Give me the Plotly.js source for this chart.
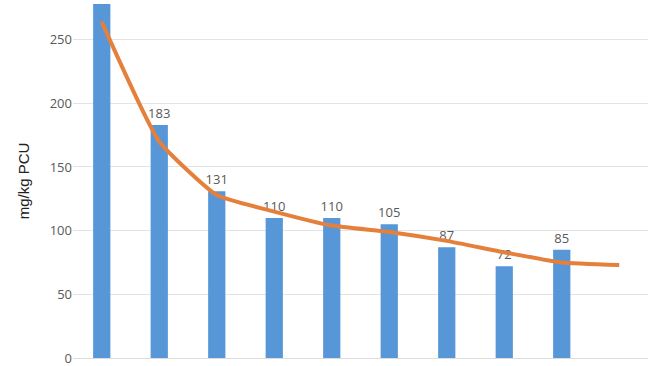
<!DOCTYPE html>
<html>
<head>
<meta charset="utf-8">
<script src="https://cdn.plot.ly/plotly-3.0.1.min.js"></script>
<style>html,body{margin:0;padding:0;background:#fff;}#chart{width:650px;height:366px;}</style>
</head>
<body>
<div id="chart"></div>
<script>
var categories = [1, 2, 3, 4, 5, 6, 7, 8, 9, 10];
var barValues = [290, 183, 131, 110, 110, 105, 87, 72, 85, null];
var barLabels = ['', '183', '131', '110', '110', '105', '87', '72', '85', ''];
var trendValues = [264, 170, 128, 115, 104, 99, 92, 83, 75, 73];
var yTicks = [0, 50, 100, 150, 200, 250];

var bars = {
  type: 'bar',
  x: categories,
  y: barValues,
  text: barLabels,
  textposition: 'outside',
  constraintext: 'none',
  cliponaxis: true,
  textfont: {family: 'Open Sans, Arial, sans-serif', size: 13, color: '#595959'},
  width: 0.3,
  marker: {color: '#5797d8'},
  hoverinfo: 'skip'
};
var trend = {
  type: 'scatter',
  mode: 'lines',
  x: categories,
  y: trendValues,
  line: {color: '#e5803c', width: 4, shape: 'spline', smoothing: 0.45},
  hoverinfo: 'skip'
};
var layout = {
  width: 650, height: 366,
  margin: {l: 73, r: 2, t: 4, b: 8},
  paper_bgcolor: '#ffffff', plot_bgcolor: '#ffffff',
  showlegend: false,
  xaxis: {range: [0.5, 10.5], showticklabels: false, showgrid: false, zeroline: false, ticks: '', showline: false, fixedrange: true},
  yaxis: {
    range: [0, 278], tickvals: yTicks, ticktext: yTicks.map(String),
    ticklabeloverflow: 'allow',
    showgrid: true, gridcolor: '#e3e3e3', gridwidth: 1, zeroline: true, zerolinecolor: '#dcdcdc',
    ticks: '', ticklen: 0, tickfont: {family: 'Open Sans, Arial, sans-serif', size: 13, color: '#595959'},
    title: {text: 'mg/kg PCU', font: {family: 'Liberation Sans, Arial, sans-serif', size: 15, color: '#222222'}, standoff: 16}
  }
};
Plotly.newPlot('chart', [bars, trend], layout, {displayModeBar: false, staticPlot: true});
</script>
</body>
</html>
